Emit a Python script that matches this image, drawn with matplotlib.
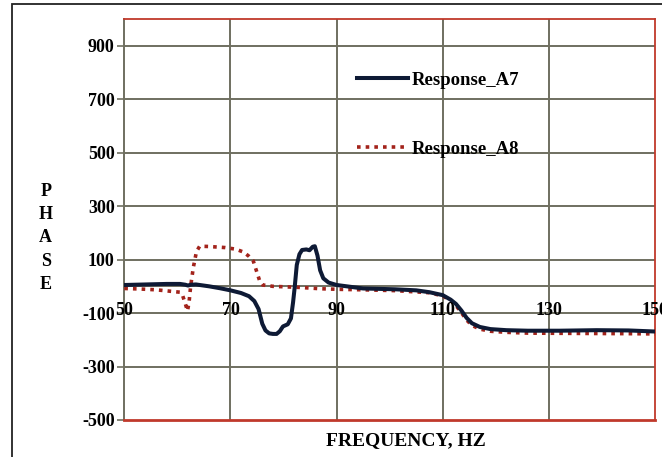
import matplotlib
matplotlib.use("Agg")
import matplotlib.pyplot as plt
from matplotlib.patches import Rectangle

# Frequency sweep (Hz) and phase readings for the two responses
freq_a7 = [50, 54, 58, 60.5, 61.5, 62, 62.5, 63.5, 66, 68, 70, 72, 73.5, 74.5,
           75.3, 76, 76.6, 77.3, 78, 78.7, 79.3, 79.9, 80.8, 81.4, 81.8, 82.1,
           82.5, 83, 83.5, 84.3, 84.9, 85.5, 85.9, 86.4, 86.9, 87.5, 88.5, 90,
           95, 101, 105, 107.5, 110, 111.5, 112.5, 113.5, 114.5, 115.5, 117,
           119, 122, 126, 132, 139, 145, 150]
phase_a7 = [5, 7, 9, 9, 6, 3, 6, 7, 0, -7, -15, -25, -37, -55,
            -85, -140, -165, -176, -178, -178, -168, -150, -142, -120, -60, -5,
            80, 120, 136, 138, 135, 148, 150, 115, 60, 30, 14, 5,
            -8, -11, -15, -22, -33, -50, -66, -90, -118, -138, -152,
            -160, -164, -166, -166, -164, -165, -169]

freq_a8 = [50, 53, 56, 58.5, 60.5, 61, 61.5, 61.9, 62.2, 62.5, 63, 63.6, 64.2,
           66, 69, 71, 72.5, 73.5, 74.3, 74.9, 75.5, 76.1, 78, 83, 87, 90, 95,
           101, 107.5, 110, 111.5, 112.5, 113.5, 114.5, 115.5, 117, 119, 122,
           126, 135, 145, 150]
phase_a8 = [-8, -10, -13, -18, -22, -35, -65, -92, -60, 0, 70, 130, 150,
            149, 145, 139, 128, 112, 95, 58, 21, 5, 0, -4, -9, -11, -13,
            -16, -24, -36, -54, -72, -98, -126, -146, -160, -168, -172,
            -175, -176, -177, -178]

x_ticks = [50, 70, 90, 110, 130, 150]
y_ticks = [900, 700, 500, 300, 100, -100, -300, -500]

serif = ["Liberation Serif", "DejaVu Serif"]
grid_col = "#6f6f60"
frame_red = "#c0392b"

fig = plt.figure(figsize=(6.62, 4.57), dpi=100)
ax = fig.add_axes([124.3 / 662, 37 / 457, 530.7 / 662, 401 / 457])

ax.set_xlim(50, 150)
ax.set_ylim(-500, 1000)

# grid
for yv in y_ticks + [0]:
    if -500 < yv < 1000:
        ax.axhline(yv, color=grid_col, lw=1.4, zorder=1)
for xv in x_ticks[1:-1]:
    ax.axvline(xv, color=grid_col, lw=1.4, zorder=1)

ax.plot(freq_a8, phase_a8, color="#a3231b", lw=2.6,
        linestyle=(0, (1, 1.4)), label="Response_A8", zorder=3)
ax.plot(freq_a7, phase_a7, color="#0e1a35", lw=2.9,
        label="Response_A7", zorder=4)

# frame: red on top/right/bottom, grey on the left
for side in ["top", "right"]:
    ax.spines[side].set_color(frame_red)
    ax.spines[side].set_linewidth(1.3)
ax.spines["left"].set_color(grid_col)
ax.spines["left"].set_linewidth(1.4)
ax.spines["bottom"].set_visible(False)
ax.axhline(-500, color=frame_red, lw=2.0, zorder=5, clip_on=False)

ax.set_yticks(y_ticks)
ax.set_yticklabels([str(v) for v in y_ticks])
ax.tick_params(axis="y", length=5, width=1.2, color=grid_col, pad=2)

# x tick labels sit just under the zero line
ax.set_xticks([])
for xv in x_ticks:
    ax.annotate(str(xv), xy=(xv, 0), xytext=(0, -24), textcoords="offset pixels",
                ha="center", va="center", fontsize=13, fontweight="bold",
                family=serif, zorder=6, annotation_clip=False)

for lbl in ax.get_yticklabels():
    lbl.set_fontfamily(serif)
    lbl.set_fontweight("bold")
    lbl.set_fontsize(13)

ax.set_xlabel("FREQUENCY, HZ", fontsize=14, fontweight="bold", family=serif,
              va="center")
ax.xaxis.set_label_coords(0.531, -0.052)
ax.set_ylabel("P\nH\nA\nS\nE", rotation=0, fontsize=13, fontweight="bold",
              family=serif, va="center", ha="center", linespacing=1.48)
ax.yaxis.set_label_coords(-0.148, 0.454)

handles, labels = ax.get_legend_handles_labels()
leg = ax.legend(handles[::-1], labels[::-1], loc="upper left",
                bbox_to_anchor=(0.4385, 0.868), frameon=False,
                borderpad=0, borderaxespad=0, handletextpad=0.2,
                handlelength=2.7, labelspacing=2.75,
                prop={"family": serif, "weight": "bold", "size": 13.5})

# outer figure border
fig.patches.append(Rectangle((12 / 662, -0.02), 1.0, (457 - 3.5) / 457 + 0.02,
                             transform=fig.transFigure, fill=False,
                             edgecolor="#222222", lw=1.3))

fig.savefig("out.png", dpi=100)
